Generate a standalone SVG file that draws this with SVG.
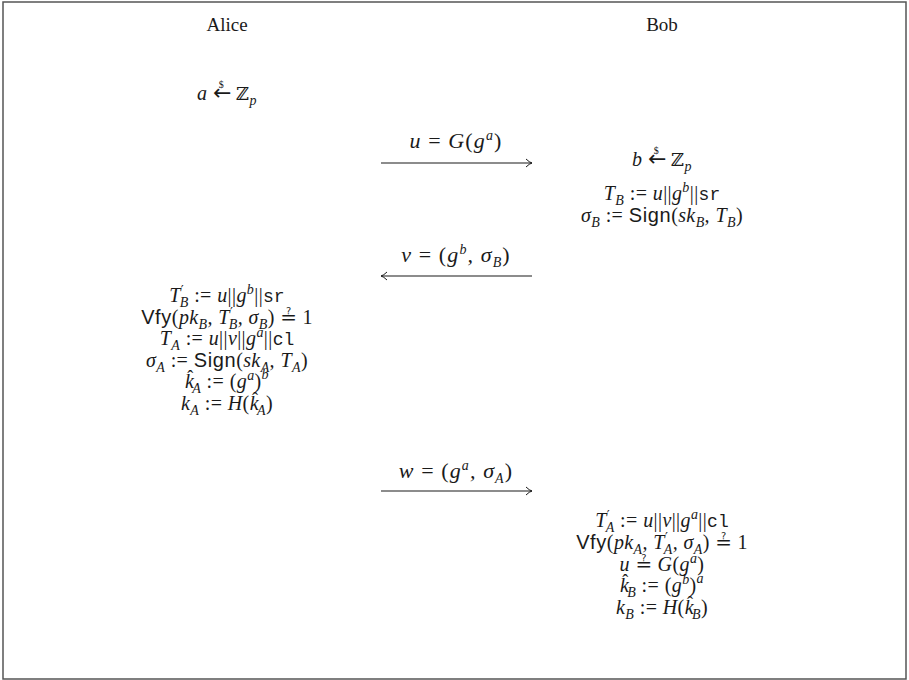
<svg xmlns="http://www.w3.org/2000/svg" width="909" height="680" viewBox="0 0 909 680">
<defs>
<style>
.m { font-family: "Liberation Serif", "DejaVu Serif", serif; font-size: 20px; font-style: italic; fill: #1a1a1a; letter-spacing: 0.4px; }
.lbl { font-size: 22px; letter-spacing: 1.1px; }
.h { font-family: "Liberation Serif", "DejaVu Serif", serif; font-size: 19px; fill: #1a1a1a; }
.r { font-style: normal; }
.s { font-family: "Liberation Sans", "DejaVu Sans", sans-serif; font-style: normal; font-size: 20px; letter-spacing: 0.6px; }
.tt { font-family: "Liberation Mono", "DejaVu Sans Mono", monospace; font-style: normal; font-size: 18px; letter-spacing: 0px; }
.bb { font-family: "DejaVu Serif", serif; font-style: normal; font-size: 18px; }
.sub { font-size: 14px; }
.pr { font-family: "DejaVu Sans", sans-serif; font-size: 13px; font-style: normal; letter-spacing: 0px; }
.tiny { font-size: 10px; font-style: normal; letter-spacing: 0px; }
.arr { font-family: "DejaVu Sans", sans-serif; font-style: normal; font-size: 22px; letter-spacing: 0px; }
.q { font-family: "DejaVu Sans", sans-serif; font-style: normal; font-size: 20px; letter-spacing: 0px; }
.hat { font-style: normal; font-size: 18px; letter-spacing: 0px; }
.conn line { stroke: #1a1a1a; stroke-width: 1.1; }
</style>
<marker id="ah" markerUnits="userSpaceOnUse" markerWidth="12" markerHeight="12" viewBox="-8 -6 10 12" refX="0" refY="0" orient="auto">
<path d="M -6 -4 Q -2.5 -0.6 0 0 Q -2.5 0.6 -6 4" fill="none" stroke="#1a1a1a" stroke-width="1"/>
</marker>
</defs>
<rect x="0" y="0" width="909" height="680" fill="#ffffff"/>
<rect x="3" y="2" width="903" height="677" fill="none" stroke="#555" stroke-width="1.5"/>

<g id="alice-header"><text class="h" x="227" y="31" text-anchor="middle">Alice</text></g>
<g id="bob-header"><text class="h" x="662" y="31" text-anchor="middle">Bob</text></g>

<g id="alice-sample">
<text class="m" x="227" y="100" text-anchor="middle">a <tspan class="arr">←</tspan><tspan class="tiny" dx="-12.5" dy="-12">$</tspan><tspan class="bb" dx="6" dy="12"> ℤ</tspan><tspan class="sub" dy="5">p</tspan></text>
</g>

<g id="bob-step1">
<text class="m" x="662" y="166" text-anchor="middle">b <tspan class="arr">←</tspan><tspan class="tiny" dx="-12.5" dy="-12">$</tspan><tspan class="bb" dx="6" dy="12"> ℤ</tspan><tspan class="sub" dy="5">p</tspan></text>
<text class="m" x="662" y="200" text-anchor="middle">T<tspan class="sub" dy="5">B</tspan><tspan class="r" dy="-5"> := </tspan>u<tspan class="r">||</tspan>g<tspan class="sub" dy="-8">b</tspan><tspan class="r" dy="8">||</tspan><tspan class="tt">sr</tspan></text>
<text class="m" x="662" y="222" text-anchor="middle">σ<tspan class="sub" dy="5">B</tspan><tspan class="r" dy="-5"> := </tspan><tspan class="s">Sign</tspan><tspan class="r">(</tspan>sk<tspan class="sub" dy="5">B</tspan><tspan dy="-5">, T</tspan><tspan class="sub" dy="5">B</tspan><tspan class="r" dy="-5">)</tspan></text>
</g>

<g id="alice-step2">
<text class="m" x="227" y="302" text-anchor="middle">T<tspan class="pr" dy="-8">′</tspan><tspan class="sub" dx="-4" dy="13">B</tspan><tspan class="r" dy="-5"> := </tspan>u<tspan class="r">||</tspan>g<tspan class="sub" dy="-8">b</tspan><tspan class="r" dy="8">||</tspan><tspan class="tt">sr</tspan></text>
<text class="m" x="227" y="324" text-anchor="middle"><tspan class="s">Vfy</tspan><tspan class="r">(</tspan>pk<tspan class="sub" dy="5">B</tspan><tspan dy="-5">, T</tspan><tspan class="pr" dy="-8">′</tspan><tspan class="sub" dx="-4" dy="13">B</tspan><tspan dy="-5">, σ</tspan><tspan class="sub" dy="5">B</tspan><tspan class="r" dy="-5">) </tspan><tspan class="q">≟</tspan><tspan class="r"> 1</tspan></text>
<text class="m" x="227" y="345" text-anchor="middle">T<tspan class="sub" dy="5">A</tspan><tspan class="r" dy="-5"> := </tspan>u<tspan class="r">||</tspan>v<tspan class="r">||</tspan>g<tspan class="sub" dy="-8">a</tspan><tspan class="r" dy="8">||</tspan><tspan class="tt">cl</tspan></text>
<text class="m" x="227" y="367" text-anchor="middle">σ<tspan class="sub" dy="5">A</tspan><tspan class="r" dy="-5"> := </tspan><tspan class="s">Sign</tspan><tspan class="r">(</tspan>sk<tspan class="sub" dy="5">A</tspan><tspan dy="-5">, T</tspan><tspan class="sub" dy="5">A</tspan><tspan class="r" dy="-5">)</tspan></text>
<text class="m" x="227" y="388" text-anchor="middle">k<tspan class="hat" dx="-7" dy="-5">ˆ</tspan><tspan class="sub" dx="-1" dy="10">A</tspan><tspan class="r" dy="-5"> := (</tspan>g<tspan class="sub" dy="-8">a</tspan><tspan class="r" dy="8">)</tspan><tspan class="sub" dy="-9">b</tspan></text>
<text class="m" x="227" y="410" text-anchor="middle">k<tspan class="sub" dy="5">A</tspan><tspan class="r" dy="-5"> := </tspan>H<tspan class="r">(</tspan>k<tspan class="hat" dx="-7" dy="-5">ˆ</tspan><tspan class="sub" dx="-1" dy="10">A</tspan><tspan class="r" dy="-5">)</tspan></text>
</g>

<g id="bob-step2">
<text class="m" x="662" y="527" text-anchor="middle">T<tspan class="pr" dy="-8">′</tspan><tspan class="sub" dx="-4" dy="13">A</tspan><tspan class="r" dy="-5"> := </tspan>u<tspan class="r">||</tspan>v<tspan class="r">||</tspan>g<tspan class="sub" dy="-8">a</tspan><tspan class="r" dy="8">||</tspan><tspan class="tt">cl</tspan></text>
<text class="m" x="662" y="549" text-anchor="middle"><tspan class="s">Vfy</tspan><tspan class="r">(</tspan>pk<tspan class="sub" dy="5">A</tspan><tspan dy="-5">, T</tspan><tspan class="pr" dy="-8">′</tspan><tspan class="sub" dx="-4" dy="13">A</tspan><tspan dy="-5">, σ</tspan><tspan class="sub" dy="5">A</tspan><tspan class="r" dy="-5">) </tspan><tspan class="q">≟</tspan><tspan class="r"> 1</tspan></text>
<text class="m" x="662" y="571" text-anchor="middle">u <tspan class="q">≟</tspan> G<tspan class="r">(</tspan>g<tspan class="sub" dy="-8">a</tspan><tspan class="r" dy="8">)</tspan></text>
<text class="m" x="662" y="592" text-anchor="middle">k<tspan class="hat" dx="-7" dy="-5">ˆ</tspan><tspan class="sub" dx="-1" dy="10">B</tspan><tspan class="r" dy="-5"> := (</tspan>g<tspan class="sub" dy="-8">b</tspan><tspan class="r" dy="8">)</tspan><tspan class="sub" dy="-9">a</tspan></text>
<text class="m" x="662" y="614" text-anchor="middle">k<tspan class="sub" dy="5">B</tspan><tspan class="r" dy="-5"> := </tspan>H<tspan class="r">(</tspan>k<tspan class="hat" dx="-7" dy="-5">ˆ</tspan><tspan class="sub" dx="-1" dy="10">B</tspan><tspan class="r" dy="-5">)</tspan></text>
</g>

<g id="connectors" class="conn">
<g id="msg-u">
<line x1="381" y1="163" x2="532" y2="163" marker-end="url(#ah)"/>
<text class="m lbl" x="456" y="148" text-anchor="middle">u <tspan class="r">=</tspan> G<tspan class="r">(</tspan>g<tspan class="sub" dy="-8">a</tspan><tspan class="r" dy="8">)</tspan></text>
</g>
<g id="msg-v">
<line x1="532" y1="276" x2="381" y2="276" marker-end="url(#ah)"/>
<text class="m lbl" x="456" y="262" text-anchor="middle">v <tspan class="r">= (</tspan>g<tspan class="sub" dy="-8">b</tspan><tspan dy="8">, σ</tspan><tspan class="sub" dy="5">B</tspan><tspan class="r" dy="-5">)</tspan></text>
</g>
<g id="msg-w">
<line x1="381" y1="491" x2="532" y2="491" marker-end="url(#ah)"/>
<text class="m lbl" x="456" y="478" text-anchor="middle">w <tspan class="r">= (</tspan>g<tspan class="sub" dy="-8">a</tspan><tspan dy="8">, σ</tspan><tspan class="sub" dy="5">A</tspan><tspan class="r" dy="-5">)</tspan></text>
</g>
</g>
</svg>
